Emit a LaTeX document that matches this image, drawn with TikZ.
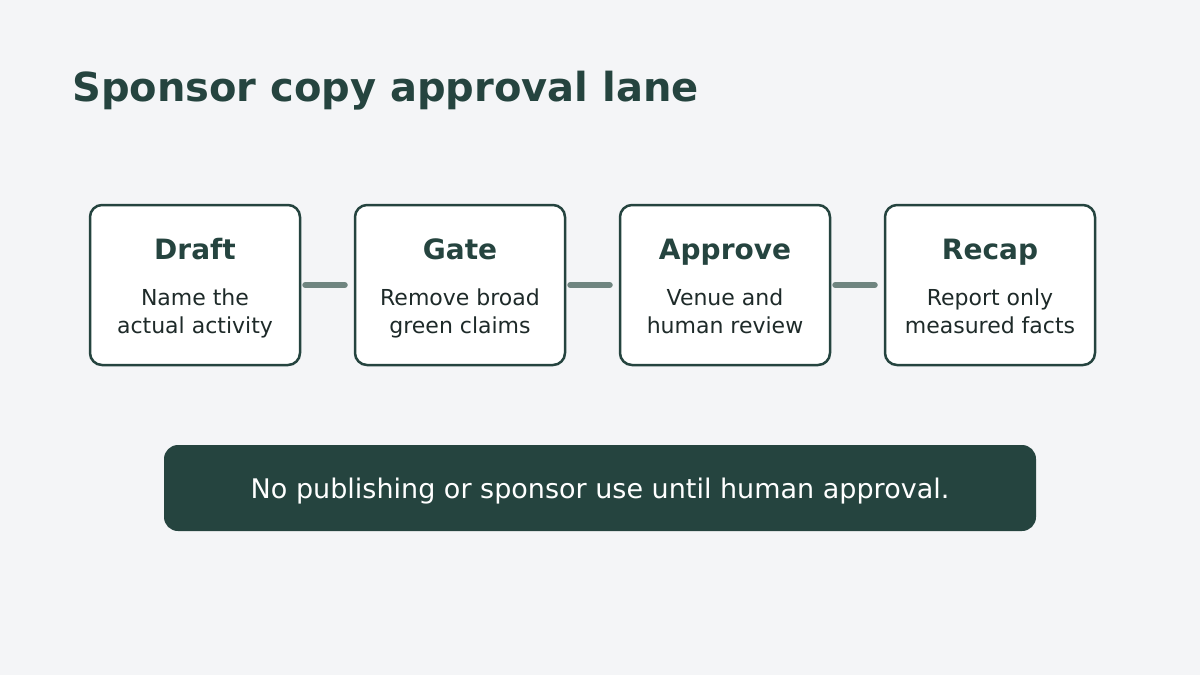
\documentclass[tikz,border=0pt]{standalone}
\usepackage{fontspec}
\setmainfont{DejaVu Sans}
\usetikzlibrary{positioning}
\definecolor{pine}{HTML}{25443F}
\definecolor{paper}{HTML}{F4F5F7}
\definecolor{linkgray}{HTML}{6F8580}
\definecolor{ink}{HTML}{1E2A29}
\begin{document}
\begin{tikzpicture}[x=1pt,y=-1pt,
	stage/.style={draw=pine, line width=2.5pt, fill=white, rounded corners=12pt,
		minimum width=210pt, minimum height=160pt},
	head/.style={anchor=base, text=pine, font=\bfseries\fontsize{28}{34}\selectfont},
	body/.style={anchor=base, text=ink, align=center, font=\fontsize{22}{28}\selectfont},
	link/.style={draw=linkgray, line width=6pt, line cap=round, shorten <=4pt, shorten >=9pt}]
	\fill[paper] (0,0) rectangle (1200,675);
	\node[anchor=base west, inner sep=0pt, text=pine, font=\bfseries\fontsize{40}{48}\selectfont]
		(title) at (72,101) {Sponsor copy approval lane};
	% the four stages
	\node[stage] (draft) at (195,285) {};
	\node[stage, right=52.5pt of draft] (gate) {};
	\node[stage, right=52.5pt of gate] (approve) {};
	\node[stage, right=52.5pt of approve] (recap) {};
	\node[head] (drafthead) at (195,259) {Draft};
	\node[head] (gatehead) at (460,259) {Gate};
	\node[head] (approvehead) at (725,259) {Approve};
	\node[head] (recaphead) at (990,259) {Recap};
	\node[body] (draftbody) at (195,333) {Name the\\actual activity};
	\node[body] (gatebody) at (460,333) {Remove broad\\green claims};
	\node[body] (approvebody) at (725,333) {Venue and\\human review};
	\node[body] (recapbody) at (990,333) {Report only\\measured facts};
	\draw[link] (draft.east) -- (gate.west);
	\draw[link] (gate.east) -- (approve.west);
	\draw[link] (approve.east) -- (recap.west);
	% the rule under the lane
	\node[fill=pine, rounded corners=14pt, minimum width=872pt, minimum height=86pt,
		text=white, text depth=0pt, font=\fontsize{27}{32}\selectfont]
		(rule) at (600,488) {No publishing or sponsor use until human approval.};
\end{tikzpicture}
\end{document}
